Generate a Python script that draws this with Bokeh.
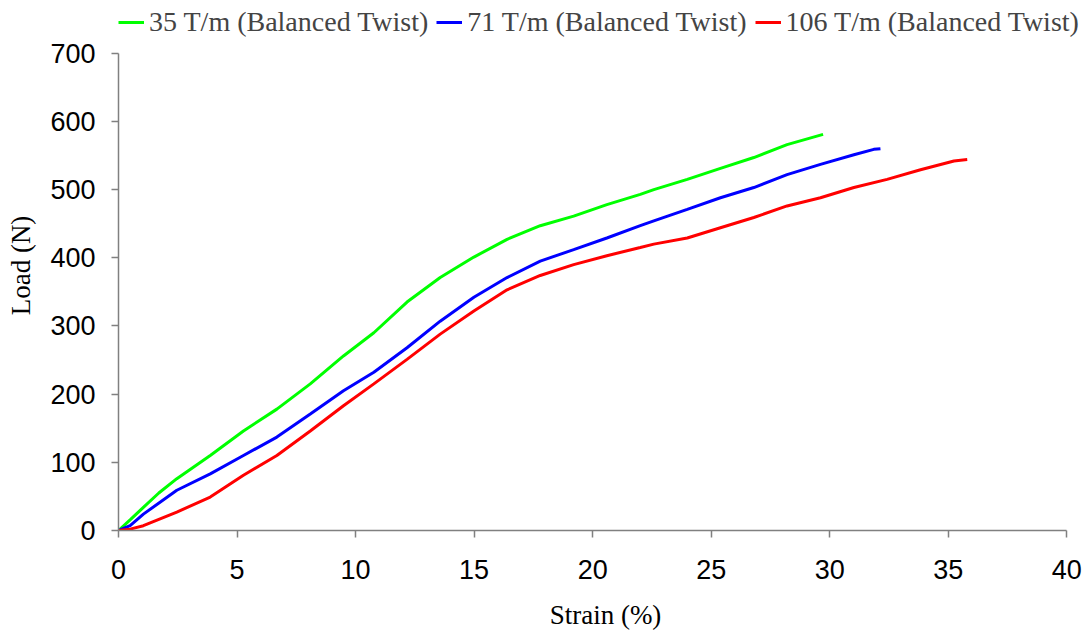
from bokeh.plotting import figure
from bokeh.models import Range1d, FixedTicker, Legend, LegendItem
from bokeh.embed import file_html
from bokeh.resources import INLINE

# Strain (%) and Load (N)
x_35 = [0, 0.5, 1.05, 1.7, 2.46, 3.87, 5.27, 6.68, 8.09, 9.49, 10.77, 12.17, 13.57,
        14.99, 16.39, 17.79, 19.2, 20.6, 22.01, 22.58, 23.99, 25.39, 26.8, 28.2, 29.72]
y_35 = [0, 16, 34, 55, 76, 110, 146, 178, 215, 256, 290, 335, 371,
        401, 427, 447, 461, 478, 493, 500, 515, 531, 547, 566, 581]

x_71 = [0, 0.49, 1.05, 2.46, 3.87, 5.27, 6.68, 8.09, 9.49, 10.77, 12.17, 13.57, 14.99,
        16.39, 17.79, 19.2, 20.6, 22.01, 22.58, 23.99, 25.39, 26.8, 28.2, 29.61,
        31.02, 31.86, 32.14]
y_71 = [0, 7, 24, 59, 83, 110, 137, 171, 205, 232, 268, 307, 342,
        371, 395, 412, 429, 447, 454, 471, 488, 503, 522, 537,
        551, 559, 560]

x_106 = [0, 0.49, 1.05, 2.46, 3.87, 5.27, 6.68, 8.09, 9.49, 10.77, 12.17, 13.57, 14.99,
         16.39, 17.79, 19.2, 20.6, 22.01, 22.58, 23.99, 25.39, 26.8, 28.2, 29.61,
         31.02, 32.42, 33.83, 35.24, 35.8]
y_106 = [0, 2, 7, 27, 49, 81, 110, 146, 183, 215, 251, 288, 322,
         353, 374, 390, 403, 415, 420, 429, 444, 459, 476, 488,
         503, 515, 529, 542, 544]

labels = ["35 T/m (Balanced Twist)", "71 T/m (Balanced Twist)", "106 T/m (Balanced Twist)"]
colors = ["#00FF00", "#0000FF", "#FF0000"]
x_ticks = [0, 5, 10, 15, 20, 25, 30, 35, 40]
y_ticks = [0, 100, 200, 300, 400, 500, 600, 700]
x_lim = (0, 40)
y_lim = (0, 700)

# layout geometry (pixels): the frame reaches the canvas top and right edge so the
# legend (drawn inside the frame) can sit above the axes
W, H = 1092, 633
left_px = 118
x40_px = 1066.3
y0_px, y700_px = 530.0, 52.7
sx = (x40_px - left_px) / (x_lim[1] - x_lim[0])
sy = (y0_px - y700_px) / (y_lim[1] - y_lim[0])
x_end = x_lim[0] + (W - left_px) / sx
y_end = y_lim[0] + y0_px / sy

p = figure(width=W, height=H, output_backend="svg", toolbar_location=None,
           x_range=Range1d(x_lim[0], x_end), y_range=Range1d(y_lim[0], y_end),
           min_border_left=left_px, min_border_right=0, min_border_top=0,
           min_border_bottom=int(H - y0_px))
p.outline_line_color = None
p.xgrid.visible = False
p.ygrid.visible = False

renderers = []
for xs, ys, c in zip([x_35, x_71, x_106], [y_35, y_71, y_106], colors):
    r = p.line(xs, ys, line_color=c, line_width=3)
    renderers.append(r)

for ax, ticks, lim in ((p.xaxis[0], x_ticks, x_lim), (p.yaxis[0], y_ticks, y_lim)):
    ax.ticker = FixedTicker(ticks=ticks)
    ax.bounds = lim
    ax.minor_tick_line_color = None
    ax.axis_line_color = "#808080"
    ax.axis_line_width = 1.5
    ax.major_tick_line_color = "#808080"
    ax.major_tick_line_width = 1.5
    ax.major_tick_in = 0
    ax.major_tick_out = 7
    ax.major_label_text_font = "Liberation Sans"
    ax.major_label_text_font_size = "27px"
    ax.major_label_text_color = "black"
    ax.axis_label_text_font = "Liberation Serif"
    ax.axis_label_text_font_size = "27px"
    ax.axis_label_text_font_style = "normal"
    ax.axis_label_text_color = "black"

p.xaxis[0].axis_label = "Strain (%)"
p.yaxis[0].axis_label = "Load (N)"
p.xaxis[0].major_label_standoff = 22
p.xaxis[0].axis_label_standoff = 18
p.yaxis[0].major_label_standoff = 16
p.yaxis[0].axis_label_standoff = 11

legend = Legend(items=[LegendItem(label=l, renderers=[r]) for l, r in zip(labels, renderers)],
                orientation="horizontal", location=(0, 492),
                label_text_font="Liberation Serif", label_text_font_size="28px",
                glyph_width=26, label_standoff=5, spacing=8, padding=0, margin=0,
                border_line_color=None, background_fill_alpha=0)
p.add_layout(legend, "center")

open("out.html", "w").write(file_html(p, INLINE))
